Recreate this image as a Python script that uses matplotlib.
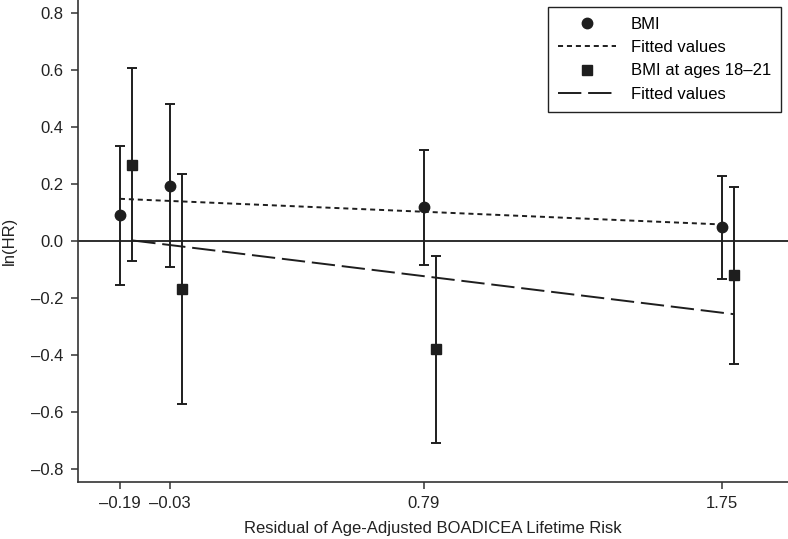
import matplotlib.pyplot as plt
from matplotlib.lines import Line2D

plt.rcParams['font.family'] = ['Liberation Sans', 'DejaVu Sans']

# residual positions (x ticks) and offset positions for the second series
x_ticks = [-0.19, -0.03, 0.79, 1.75]
x_tick_labels = ['\u20130.19', '\u20130.03', '0.79', '1.75']
x_sq = [-0.15, 0.01, 0.83, 1.79]

# BMI: ln(HR) with confidence limits
bmi = [0.091, 0.194, 0.119, 0.048]
bmi_lo = [-0.154, -0.090, -0.084, -0.135]
bmi_hi = [0.333, 0.480, 0.320, 0.229]

# BMI at ages 18-21
bmi1821 = [0.268, -0.169, -0.380, -0.119]
bmi1821_lo = [-0.071, -0.573, -0.710, -0.430]
bmi1821_hi = [0.606, 0.235, -0.053, 0.191]

# fitted lines (end points)
fit_bmi_x = [-0.19, 1.75]
fit_bmi_y = [0.148, 0.058]
fit_1821_x = [-0.15, 1.79]
fit_1821_y = [0.002, -0.257]

y_ticks = [0.8, 0.6, 0.4, 0.2, 0.0, -0.2, -0.4, -0.6, -0.8]
y_tick_labels = ['0.8', '0.6', '0.4', '0.2', '0.0', '\u20130.2', '\u20130.4', '\u20130.6', '\u20130.8']

col = '#1e1e1e'
fs = 12

fig = plt.figure(figsize=(7.88, 5.39), dpi=100)
ax = fig.add_axes([0.099, 0.1058, 0.901, 0.8942])

ax.axhline(0, color=col, lw=1.3, zorder=1)

err_b = [[b - l for b, l in zip(bmi, bmi_lo)], [h - b for b, h in zip(bmi, bmi_hi)]]
err_s = [[b - l for b, l in zip(bmi1821, bmi1821_lo)], [h - b for b, h in zip(bmi1821, bmi1821_hi)]]
ax.errorbar(x_ticks, bmi, yerr=err_b, fmt='o', color=col, ms=7.5, elinewidth=1.4,
            capsize=3.7, capthick=1.4, zorder=3)
ax.errorbar(x_sq, bmi1821, yerr=err_s, fmt='s', color=col, ms=7.3, elinewidth=1.4,
            capsize=3.7, capthick=1.4, zorder=3)

ax.plot(fit_bmi_x, fit_bmi_y, color=col, lw=1.4, linestyle=(0, (2.6, 2.0)), zorder=2)
ax.plot(fit_1821_x, fit_1821_y, color=col, lw=1.4, linestyle=(0, (12, 3.5)), zorder=2)

ax.set_xlim(-0.325, 1.963)
ax.set_ylim(-0.8455, 0.8455)
ax.set_xticks(x_ticks)
ax.set_xticklabels(x_tick_labels)
ax.set_yticks(y_ticks)
ax.set_yticklabels(y_tick_labels)
ax.tick_params(labelsize=fs, length=4.7, width=1.1, pad=5.5, color='#333333', labelcolor='#222222')
for s in ['top', 'right']:
    ax.spines[s].set_visible(False)
for s in ['left', 'bottom']:
    ax.spines[s].set_color('#333333')
    ax.spines[s].set_linewidth(1.2)

ax.set_xlabel('Residual of Age-Adjusted BOADICEA Lifetime Risk', fontsize=fs, color='#222222', labelpad=7)
ax.set_ylabel('ln(HR)', fontsize=fs, color='#222222')
ax.yaxis.set_label_coords(-0.086, 0.5)

handles = [
    Line2D([], [], marker='o', ls='none', color=col, ms=7.5),
    Line2D([], [], color=col, lw=1.4, linestyle=(0, (2.6, 2.0))),
    Line2D([], [], marker='s', ls='none', color=col, ms=7.3),
    Line2D([], [], color=col, lw=1.4, linestyle=(0, (12, 3.5))),
]
labels = ['BMI', 'Fitted values', 'BMI at ages 18\u201321', 'Fitted values']
leg = ax.legend(handles, labels, loc='upper right', bbox_to_anchor=(0.99, 0.986), borderaxespad=0,
                fontsize=fs, fancybox=False, edgecolor='#222222', framealpha=1, handlelength=3.5,
                handletextpad=0.85, labelspacing=0.5, borderpad=0.6)
leg.get_frame().set_linewidth(1.0)

fig.savefig('out.png', dpi=100)
